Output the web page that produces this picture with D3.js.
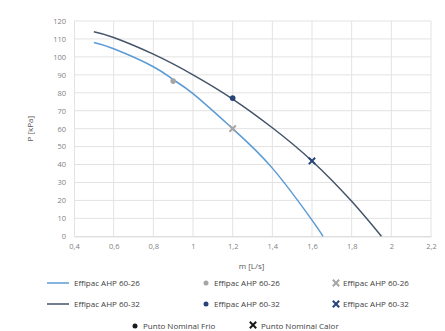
<!DOCTYPE html>
<html>
<head>
<meta charset="utf-8">
<script src="https://cdn.jsdelivr.net/npm/d3@7"></script>
<style>
  body { margin: 0; background: #fff; }
  text { font-family: "Open Sans", sans-serif; }
</style>
</head>
<body>
<svg width="445" height="331"></svg>
<script>
// curve data
const flow26 = [0.5, 0.6, 0.8, 0.9, 1.0, 1.2, 1.4, 1.6, 1.655];
const pres26 = [108, 104.5, 94.5, 87.3, 79.5, 60, 38, 9, 0];
const flow32 = [0.5, 0.6, 0.8, 1.0, 1.2, 1.4, 1.6, 1.8, 1.95];
const pres32 = [114, 110.8, 101.5, 90, 76.5, 60.5, 42, 19.5, 0];

// nominal points
const frio = [{x: 0.9, y: 86.5, c: '#a5a5a5'}, {x: 1.2, y: 77, c: '#264478'}];
const calor = [{x: 1.2, y: 60, c: '#a5a5a5'}, {x: 1.6, y: 42, c: '#264478'}];

const xTicks = [0.4, 0.6, 0.8, 1, 1.2, 1.4, 1.6, 1.8, 2, 2.2];
const yTicks = [0, 10, 20, 30, 40, 50, 60, 70, 80, 90, 100, 110, 120];

const svg = d3.select('svg');
const x = d3.scaleLinear().domain([0.4, 2.2]).range([74, 431]);
const y = d3.scaleLinear().domain([0, 120]).range([236.3, 21]);
const fmt = d => String(d).replace('.', ',');

// grid
svg.append('g').selectAll('line.v')
  .data(xTicks.slice(1))
  .enter().append('line')
  .attr('x1', d => x(d)).attr('x2', d => x(d))
  .attr('y1', y(0)).attr('y2', y(120))
  .attr('stroke', '#e3e3e3').attr('stroke-width', 1);
svg.append('g').selectAll('line.h')
  .data(yTicks.slice(1))
  .enter().append('line')
  .attr('x1', x(0.4)).attr('x2', x(2.2))
  .attr('y1', d => y(d)).attr('y2', d => y(d))
  .attr('stroke', '#e3e3e3').attr('stroke-width', 1);

// axes
const xAxis = svg.append('g')
  .attr('transform', `translate(0,${y(0)})`)
  .call(d3.axisBottom(x).tickValues(xTicks).tickFormat(fmt).tickSize(0).tickPadding(7));
const yAxis = svg.append('g')
  .attr('transform', `translate(${x(0.4)},0)`)
  .call(d3.axisLeft(y).tickValues(yTicks).tickSize(0).tickPadding(8));
[xAxis, yAxis].forEach(a => {
  a.select('.domain').attr('stroke', '#d0d0d0');
  a.selectAll('text').attr('fill', '#7f7f7f').style('font-size', '7.5px')
    .style('font-family', '"Open Sans", sans-serif');
});
yAxis.select('.domain').attr('stroke', '#e3e3e3');

svg.append('text')
  .attr('transform', `translate(33,${(y(0) + y(120)) / 2}) rotate(-90)`)
  .attr('text-anchor', 'middle')
  .attr('fill', '#595959').style('font-size', '8px')
  .text('P [kPa]');
svg.append('text')
  .attr('x', (x(0.4) + x(2.2)) / 2 - 1).attr('y', 269)
  .attr('text-anchor', 'middle')
  .attr('fill', '#595959').style('font-size', '8px')
  .text('m [L/s]');

// curves
const line = d3.line().x(d => x(d[0])).y(d => y(d[1])).curve(d3.curveNatural);
svg.append('path')
  .datum(d3.zip(flow26, pres26))
  .attr('d', line).attr('fill', 'none')
  .attr('stroke', '#5b9bd5').attr('stroke-width', 1.5);
svg.append('path')
  .datum(d3.zip(flow32, pres32))
  .attr('d', line).attr('fill', 'none')
  .attr('stroke', '#44546a').attr('stroke-width', 1.5);

// markers
const cross = d3.symbol().type(d3.symbolX).size(28);
svg.selectAll('circle.frio')
  .data(frio)
  .enter().append('circle')
  .attr('cx', d => x(d.x)).attr('cy', d => y(d.y))
  .attr('r', 2.8).attr('fill', d => d.c);
svg.selectAll('path.calor')
  .data(calor)
  .enter().append('path')
  .attr('transform', d => `translate(${x(d.x)},${y(d.y)})`)
  .attr('d', cross).attr('stroke', d => d.c).attr('stroke-width', 2).attr('fill', 'none');

// legend
const lg = svg.append('g').style('font-size', '8px');
const rows = [
  {label: 'Effipac AHP 60-26', line: '#5b9bd5', mark: '#a5a5a5', yy: 283},
  {label: 'Effipac AHP 60-32', line: '#44546a', mark: '#264478', yy: 304}
];
rows.forEach(r => {
  lg.append('line').attr('x1', 47).attr('x2', 69).attr('y1', r.yy).attr('y2', r.yy)
    .attr('stroke', r.line).attr('stroke-width', 1.5);
  lg.append('text').attr('x', 74).attr('y', r.yy + 2.8).attr('fill', '#404040').text(r.label);
  lg.append('circle').attr('cx', 206).attr('cy', r.yy).attr('r', 2.5).attr('fill', r.mark);
  lg.append('text').attr('x', 214).attr('y', r.yy + 2.8).attr('fill', '#404040').text(r.label);
  lg.append('path').attr('transform', `translate(336,${r.yy})`)
    .attr('d', cross).attr('stroke', r.mark).attr('stroke-width', 2).attr('fill', 'none');
  lg.append('text').attr('x', 343).attr('y', r.yy + 2.8).attr('fill', '#404040').text(r.label);
});
lg.append('circle').attr('cx', 135).attr('cy', 326).attr('r', 2.5).attr('fill', '#1a1a1a');
lg.append('text').attr('x', 143).attr('y', 328.8).attr('fill', '#404040').text('Punto Nominal Frio');
lg.append('path').attr('transform', 'translate(253,325)')
  .attr('d', cross).attr('stroke', '#1a1a1a').attr('stroke-width', 2).attr('fill', 'none');
lg.append('text').attr('x', 261).attr('y', 328.8).attr('fill', '#404040').text('Punto Nominal Calor');
</script>
</body>
</html>
